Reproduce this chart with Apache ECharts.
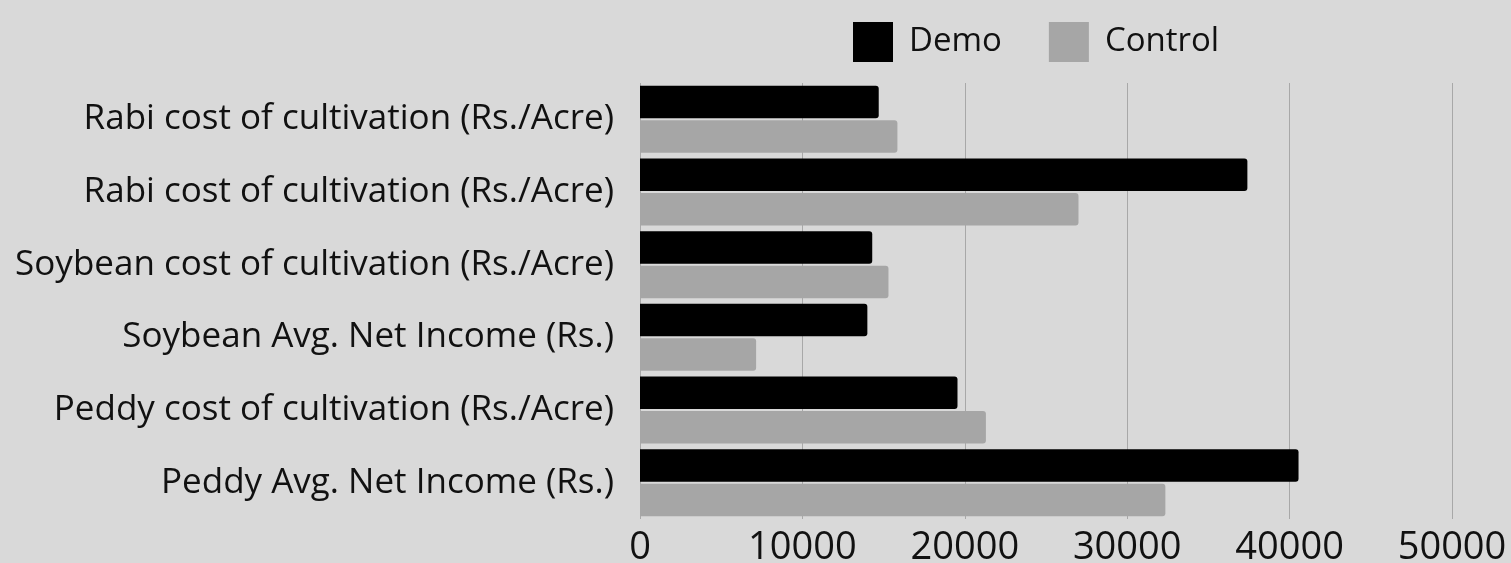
<!DOCTYPE html>
<html>
<head>
<meta charset="utf-8">
<script src="https://cdn.jsdelivr.net/npm/echarts@6/dist/echarts.min.js"></script>
<style>
  html, body { margin: 0; padding: 0; background: #d9d9d9; }
  #chart { width: 1511px; height: 563px; }
</style>
</head>
<body>
<div id="chart"></div>
<script>
// categories, top to bottom
var categories = [
  'Rabi cost of cultivation (Rs./Acre)',
  'Rabi cost of cultivation (Rs./Acre)',
  'Soybean cost of cultivation (Rs./Acre)',
  'Soybean Avg. Net Income (Rs.)',
  'Peddy cost of cultivation (Rs./Acre)',
  'Peddy Avg. Net Income (Rs.)'
];
var demoValues = [14700, 37400, 14300, 14000, 19550, 40550];
var controlValues = [15850, 27000, 15300, 7150, 21300, 32350];
var xTicks = [0, 10000, 20000, 30000, 40000, 50000];

var font = '"Open Sans", "Noto Sans", sans-serif';

var myChart = echarts.init(document.getElementById('chart'));
myChart.setOption({
  backgroundColor: '#d9d9d9',
  animation: false,
  legend: {
    left: 848,
    top: 17,
    itemWidth: 40,
    itemHeight: 40,
    itemGap: 47,
    icon: 'rect',
    textStyle: {
      fontFamily: font,
      fontSize: 33,
      color: '#111',
      padding: [0, 0, 0, 11]
    },
    data: ['Demo', 'Control']
  },
  grid: {
    left: 640,
    right: 59,
    top: 83,
    bottom: 44,
    containLabel: false,
    outerBoundsMode: 'none'
  },
  xAxis: {
    type: 'value',
    min: xTicks[0],
    max: xTicks[xTicks.length - 1],
    interval: xTicks[1] - xTicks[0],
    axisLine: { show: false },
    axisTick: { show: false },
    splitLine: { show: true, lineStyle: { color: '#a8a8a8', width: 1 } },
    axisLabel: {
      fontFamily: font,
      fontSize: 38,
      color: '#111',
      margin: 10,
      formatter: function (v) { return String(v); }
    }
  },
  yAxis: {
    type: 'category',
    inverse: true,
    data: categories,
    axisLine: { show: false },
    axisTick: { show: false },
    axisLabel: {
      fontFamily: font,
      fontSize: 35,
      color: '#111',
      margin: 26
    }
  },
  series: [
    {
      name: 'Demo',
      type: 'bar',
      data: demoValues,
      barWidth: 32.5,
      barGap: '6%',
      itemStyle: { color: '#000000', borderRadius: [0, 3, 3, 0] }
    },
    {
      name: 'Control',
      type: 'bar',
      data: controlValues,
      barWidth: 32.5,
      itemStyle: { color: '#a6a6a6', borderRadius: [0, 3, 3, 0] }
    }
  ]
});
</script>
</body>
</html>
